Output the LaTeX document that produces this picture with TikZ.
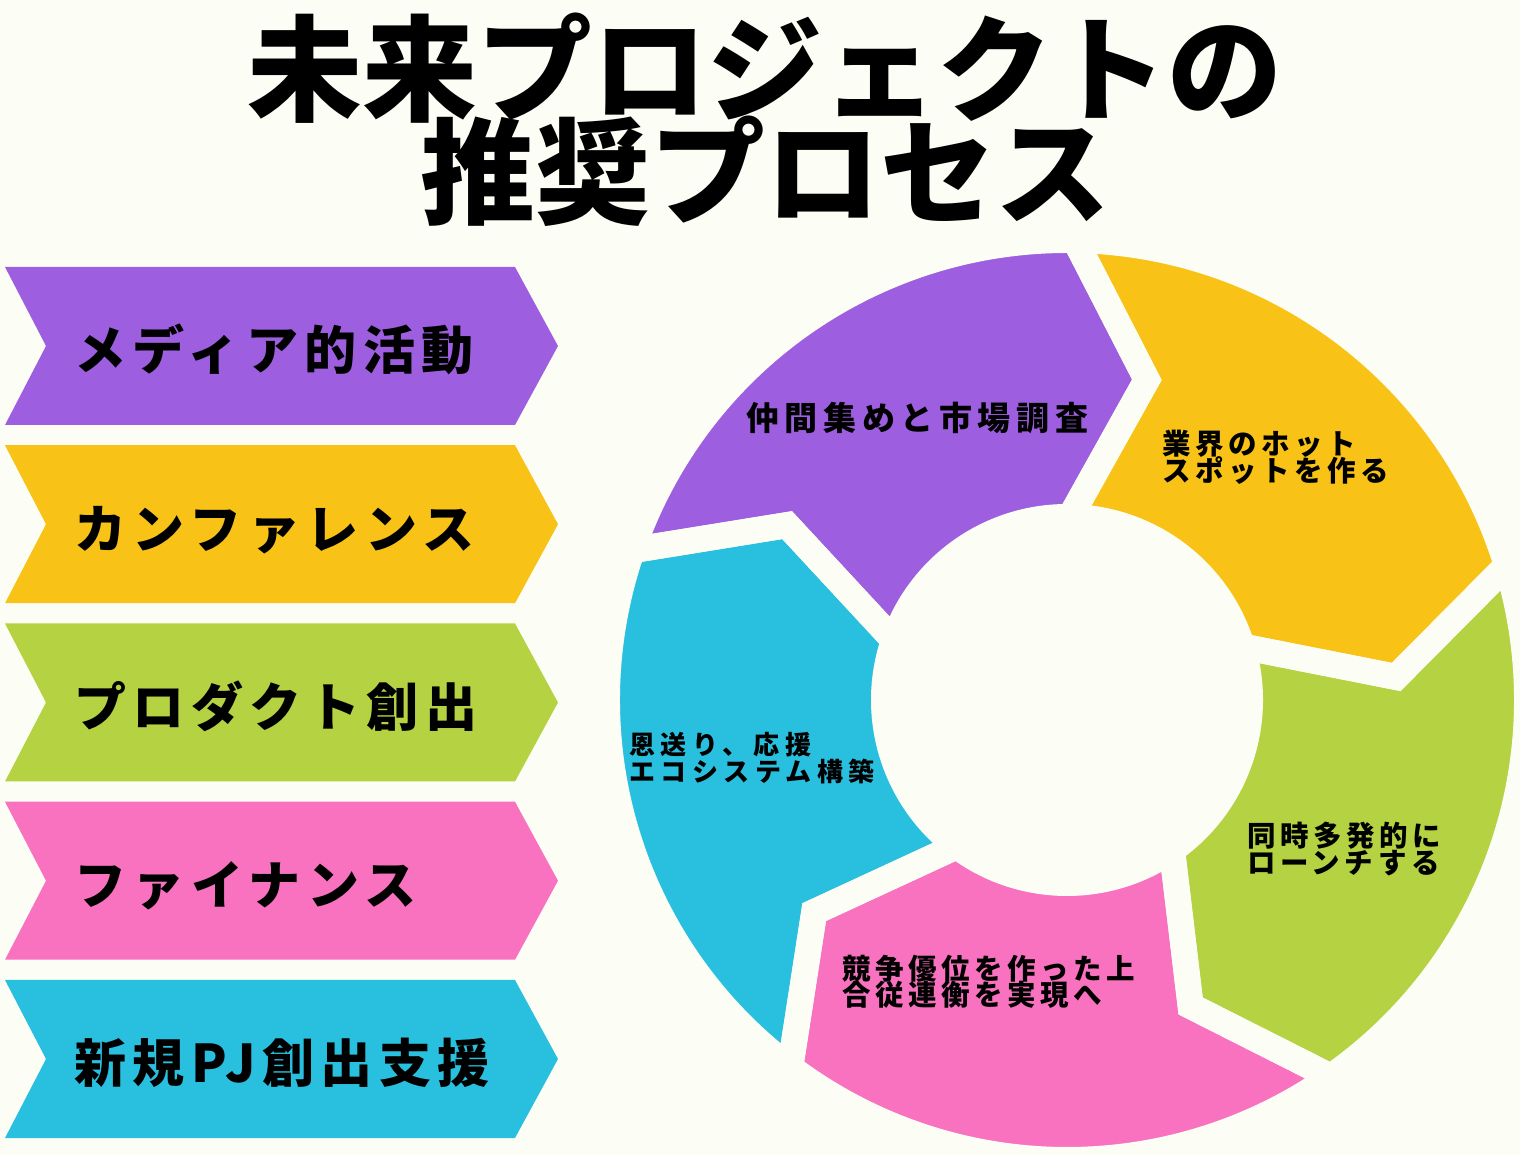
\documentclass[tikz,border=0pt]{standalone}
\usepackage{fontspec}
\setmainfont{Noto Sans CJK JP}
\newfontfamily\jpchev{Noto Sans CJK JP}[LetterSpace=12.5]
\newfontfamily\jpring{Noto Sans CJK JP}[LetterSpace=16]
\newfontfamily\jpringb{Noto Sans CJK JP}[LetterSpace=21]
\newfontfamily\jpringc{Noto Sans CJK JP}[LetterSpace=17]
\usetikzlibrary{calc}
\definecolor{bgc}{HTML}{FCFEF6}
\definecolor{purp}{HTML}{9D5FE0}
\definecolor{yel}{HTML}{F8C316}
\definecolor{grn}{HTML}{B4D242}
\definecolor{pnk}{HTML}{F872C0}
\definecolor{blu}{HTML}{29C0E0}
\newcommand\ringseg[2]{%
  \pgfmathsetmacro\segE{#1-72}%
  \pgfmathsetmacro\segT{#1-85}%
  \pgfmathsetmacro\segN{#1-13}%
  \path[#2] ($(C)+(#1:460)$) arc[start angle=#1, end angle=\segE, radius=460]
  -- ($(C)+(\segT:330)$) -- ($(C)+(\segE:183)$)
  arc[start angle=\segE, end angle=#1, radius=183]
  -- ($(C)+(\segN:330)$) -- cycle;}
\tikzset{
  chevtxt/.style={anchor=west, inner sep=0pt, text height=45.8pt, text depth=6.2pt,
    font=\jpchev\bfseries\fontsize{52}{52}\selectfont},
  ringtxt/.style={anchor=west, inner sep=0pt, align=left,
    font=\jpring\bfseries\fontsize{28.5}{26.5}\selectfont},
  ringsmall/.style={anchor=west, inner sep=0pt, align=left,
    font=\jpringb\bfseries\fontsize{26}{26.5}\selectfont},
  ringbig/.style={anchor=west, inner sep=0pt, text height=29pt, text depth=4pt,
    font=\jpringc\bfseries\fontsize{33}{33}\selectfont},
  titletxt/.style={inner sep=0pt, align=center,
    font=\bfseries\fontsize{115}{103}\selectfont},
  gapline/.style={draw=bgc, line width=26pt, line join=miter},
}
\begin{document}
\lineskiplimit=-200pt\relax
\lineskip=0pt\relax
\begin{tikzpicture}[x=1pt,y=1pt]
\fill[bgc] (0,0) rectangle (1520,1154);
\useasboundingbox (0,0) rectangle (1520,1154);
% title
\node[titletxt] (title) at (765,1034) {未来プロジェクトの\\推奨プロセス};
% chevrons
\foreach \col/\txt [count=\i from 0] in {purp/メディア的活動, yel/カンファレンス, grn/プロダクト創出, pnk/ファイナンス, blu/新規PJ創出支援}{
  \pgfmathsetmacro\T{1154-267-178.25*\i}
  \pgfmathsetmacro\M{\T-79}
  \pgfmathsetmacro\B{\T-158}
  \fill[\col] (5,\T) -- (515,\T) -- (558,\M) -- (515,\B) -- (5,\B) -- (46,\M) -- cycle;
  \node[chevtxt] (chev\i) at (74,\M-4) {\txt};
}
% ring
\coordinate (C) at (1067,454);
\foreach \col/\s in {purp/161, yel/89, grn/17, pnk/-55, blu/-127}{
  \ringseg{\s}{fill=\col}
}
\foreach \s in {161, 89, 17, -55, -127}{
  \ringseg{\s}{gapline}
}
\node[ringbig] (seg1) at (746,736) {仲間集めと市場調査};
\node[ringtxt] (seg2) at (1162,696.5) {業界のホット\\スポットを作る};
\node[ringtxt] (seg3) at (1247,305) {同時多発的に\\ローンチする};
\node[ringtxt] (seg4) at (842,172) {競争優位を作った上\\合従連衡を実現へ};
\node[ringsmall] (seg5) at (629,396) {恩送り、応援\\エコシステム構築};
\end{tikzpicture}
\end{document}
